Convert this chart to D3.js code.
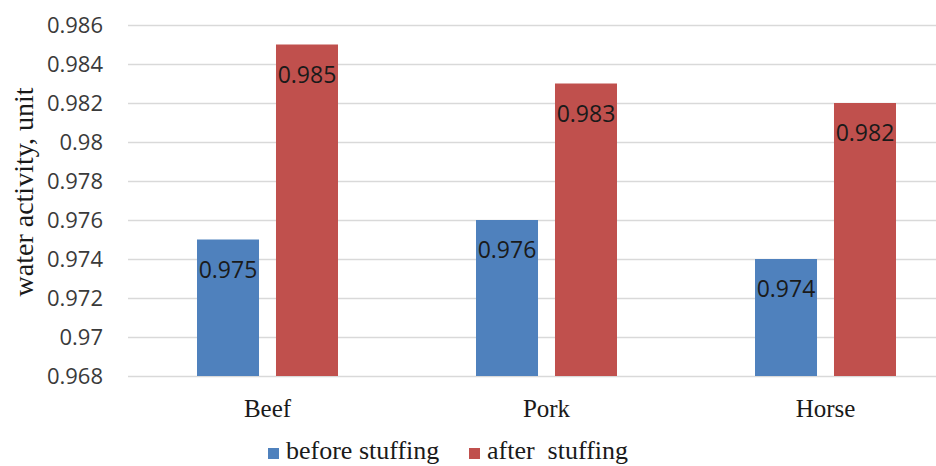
<!DOCTYPE html>
<html>
<head>
<meta charset="utf-8">
<script src="https://cdn.jsdelivr.net/npm/d3@7"></script>
<style>
  html, body { margin: 0; padding: 0; background: #fff; overflow: hidden; }
  svg { display: block; }
</style>
</head>
<body>
<svg id="chart" width="936" height="466"></svg>
<script>
// Water activity of minced meat before and after stuffing
const categories = ["Beef", "Pork", "Horse"];
const seriesNames = ["before stuffing", "after  stuffing"];
const beforeValues = [0.975, 0.976, 0.974];
const afterValues = [0.985, 0.983, 0.982];
const yTicks = [0.968, 0.97, 0.972, 0.974, 0.976, 0.978, 0.98, 0.982, 0.984, 0.986];
const tickLabels = ["0.968", "0.97", "0.972", "0.974", "0.976", "0.978", "0.98", "0.982", "0.984", "0.986"];
const colors = ["#4F81BD", "#C0504D"];

const svg = d3.select("#chart");
const plotLeft = 128, plotRight = 965, plotTop = 25, plotBottom = 376;

const y = d3.scaleLinear().domain([0.968, 0.986]).range([plotBottom, plotTop]);
const x0 = d3.scaleBand().domain(categories).range([plotLeft, plotRight]);
const x1 = d3.scaleBand().domain([0, 1]).range([0, 141]).paddingInner(0.215);

// gridlines
svg.append("g")
  .attr("transform", `translate(${plotLeft},0)`)
  .call(d3.axisLeft(y).tickValues(yTicks).tickSize(-(plotRight - plotLeft)).tickFormat(""))
  .call(g => g.select(".domain").remove())
  .call(g => g.selectAll("line").attr("stroke", "#D9D9D9").attr("stroke-width", 1.3));

// tick labels
svg.append("g")
  .selectAll("text")
  .data(yTicks)
  .join("text")
  .attr("x", 103)
  .attr("y", d => y(d))
  .attr("dy", "0.35em")
  .attr("text-anchor", "end")
  .attr("font-family", "'Open Sans', sans-serif")
  .attr("font-size", 22)
  .attr("fill", "#3a3a3a")
  .text((d, i) => tickLabels[i]);

// axis title
svg.append("text")
  .attr("transform", `translate(33,192) rotate(-90)`)
  .attr("text-anchor", "middle")
  .attr("font-family", "'Liberation Serif', 'Times New Roman', serif")
  .attr("font-size", 28)
  .attr("fill", "#1a1a1a")
  .text("water activity, unit");

const rows = categories.map((c, i) => ({ c, vals: [beforeValues[i], afterValues[i]] }));
const groupOffset = (x0.bandwidth() - 141) / 2;

const groups = svg.append("g").selectAll("g")
  .data(rows)
  .join("g")
  .attr("transform", d => `translate(${x0(d.c) + groupOffset},0)`);

groups.selectAll("rect")
  .data(d => d.vals.map((v, k) => ({ v, k })))
  .join("rect")
  .attr("x", d => x1(d.k))
  .attr("y", d => y(d.v))
  .attr("width", x1.bandwidth())
  .attr("height", d => plotBottom - y(d.v))
  .attr("fill", d => colors[d.k]);

groups.selectAll("text.val")
  .data(d => d.vals.map((v, k) => ({ v, k })))
  .join("text")
  .attr("class", "val")
  .attr("x", d => x1(d.k) + x1.bandwidth() / 2)
  .attr("y", d => y(d.v) + 30)
  .attr("dy", "0.35em")
  .attr("text-anchor", "middle")
  .attr("font-family", "'Open Sans', sans-serif")
  .attr("font-size", 23)
  .attr("fill", "#1a1a1a")
  .text(d => d.v.toFixed(3));

// category labels
svg.append("g").selectAll("text")
  .data(categories)
  .join("text")
  .attr("x", d => x0(d) + x0.bandwidth() / 2)
  .attr("y", 408)
  .attr("dy", "0.35em")
  .attr("text-anchor", "middle")
  .attr("font-family", "'Liberation Serif', 'Times New Roman', serif")
  .attr("font-size", 25)
  .attr("fill", "#1a1a1a")
  .text(d => d);

// legend
const legend = svg.append("g");
const legendX = [268, 469];
seriesNames.forEach((name, i) => {
  legend.append("rect")
    .attr("x", legendX[i])
    .attr("y", 448)
    .attr("width", 11)
    .attr("height", 11)
    .attr("fill", colors[i]);
  legend.append("text")
    .attr("x", legendX[i] + 18)
    .attr("y", 459)
    .attr("font-family", "'Liberation Serif', 'Times New Roman', serif")
    .attr("font-size", 26)
    .attr("fill", "#1a1a1a")
    .attr("xml:space", "preserve")
    .style("white-space", "pre")
    .text(name);
});
</script>
</body>
</html>
